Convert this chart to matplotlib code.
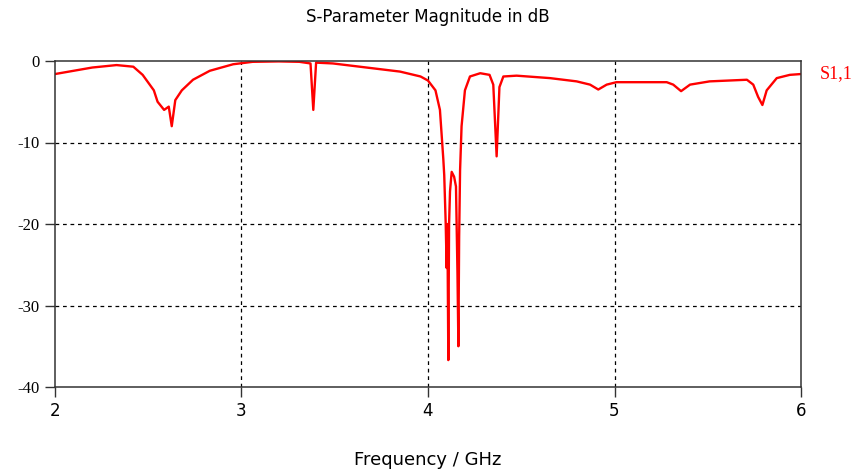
import numpy as np
import matplotlib.pyplot as plt

# S1,1 magnitude (GHz, dB)
freq_ghz = [2.00, 2.10, 2.20, 2.33, 2.42, 2.47, 2.53, 2.55, 2.585, 2.61, 2.626, 2.645,
            2.68, 2.74, 2.83, 2.955, 3.06, 3.20, 3.31, 3.37, 3.385, 3.40, 3.49, 3.67,
            3.85, 3.96, 4.00, 4.04, 4.064, 4.082, 4.087, 4.095, 4.100, 4.104, 4.109,
            4.113, 4.118, 4.127, 4.140, 4.150, 4.158, 4.163, 4.167, 4.172, 4.180,
            4.198, 4.225, 4.28, 4.33, 4.35, 4.368, 4.383, 4.404, 4.475, 4.654,
            4.797, 4.869, 4.913, 4.958, 5.01, 5.28, 5.315, 5.357, 5.405, 5.51,
            5.71, 5.744, 5.77, 5.793, 5.816, 5.87, 5.94, 6.00]
s11_db = [-1.6, -1.2, -0.8, -0.5, -0.7, -1.7, -3.6, -5.0, -6.0, -5.6, -8.0, -4.8,
          -3.6, -2.3, -1.2, -0.4, -0.1, -0.05, -0.1, -0.3, -6.0, -0.2, -0.3, -0.8,
          -1.3, -1.9, -2.4, -3.6, -6.0, -12.0, -14.0, -20.0, -25.4, -20.0, -36.7,
          -20.0, -16.0, -13.6, -14.2, -15.4, -26.0, -35.0, -21.6, -13.4, -8.0,
          -3.6, -1.9, -1.5, -1.7, -2.9, -11.7, -3.2, -1.9, -1.8, -2.1,
          -2.5, -2.9, -3.5, -2.9, -2.6, -2.6, -2.9, -3.7, -2.9, -2.5,
          -2.3, -2.9, -4.4, -5.4, -3.6, -2.1, -1.7, -1.6]

x_ticks = [2, 3, 4, 5, 6]
y_ticks = [0, -10, -20, -30, -40]

fig = plt.figure(figsize=(8.62, 4.74), dpi=100)
ax = fig.add_axes([55/862, 1-387/474, (801-55)/862, (387-61)/474])

ax.plot(freq_ghz, s11_db, color="red", lw=1.7)

ax.set_xlim(2, 6)
ax.set_ylim(-40, 0)
ax.set_xticks(x_ticks)
ax.set_yticks(y_ticks)
ax.set_xticklabels([str(t) for t in x_ticks], fontsize=12)
ax.set_yticklabels([str(t) for t in y_ticks], family="Liberation Serif", fontsize=12)
ax.tick_params(axis="both", direction="out", length=7, width=1, color="#333333", pad=4)

ax.grid(True, color="black", linestyle=(0, (3, 3)), linewidth=0.9)
# only the inner grid lines are drawn in the reference
xg = ax.xaxis.get_gridlines()
yg = ax.yaxis.get_gridlines()
for g in (xg[0], xg[-1], yg[0], yg[-1]):
    g.set_visible(False)
for s in ax.spines.values():
    s.set_color("#333333")
    s.set_linewidth(1.1)

ax.set_title("S-Parameter Magnitude in dB", fontsize=12, pad=28)
ax.set_xlabel("Frequency / GHz", fontsize=13, labelpad=22)
ax.text(1.025, s11_db[-1], "S1,1", color="red", family="Liberation Serif", fontsize=13,
        transform=ax.get_yaxis_transform(), va="center", ha="left")

fig.savefig("out.png", dpi=100)
